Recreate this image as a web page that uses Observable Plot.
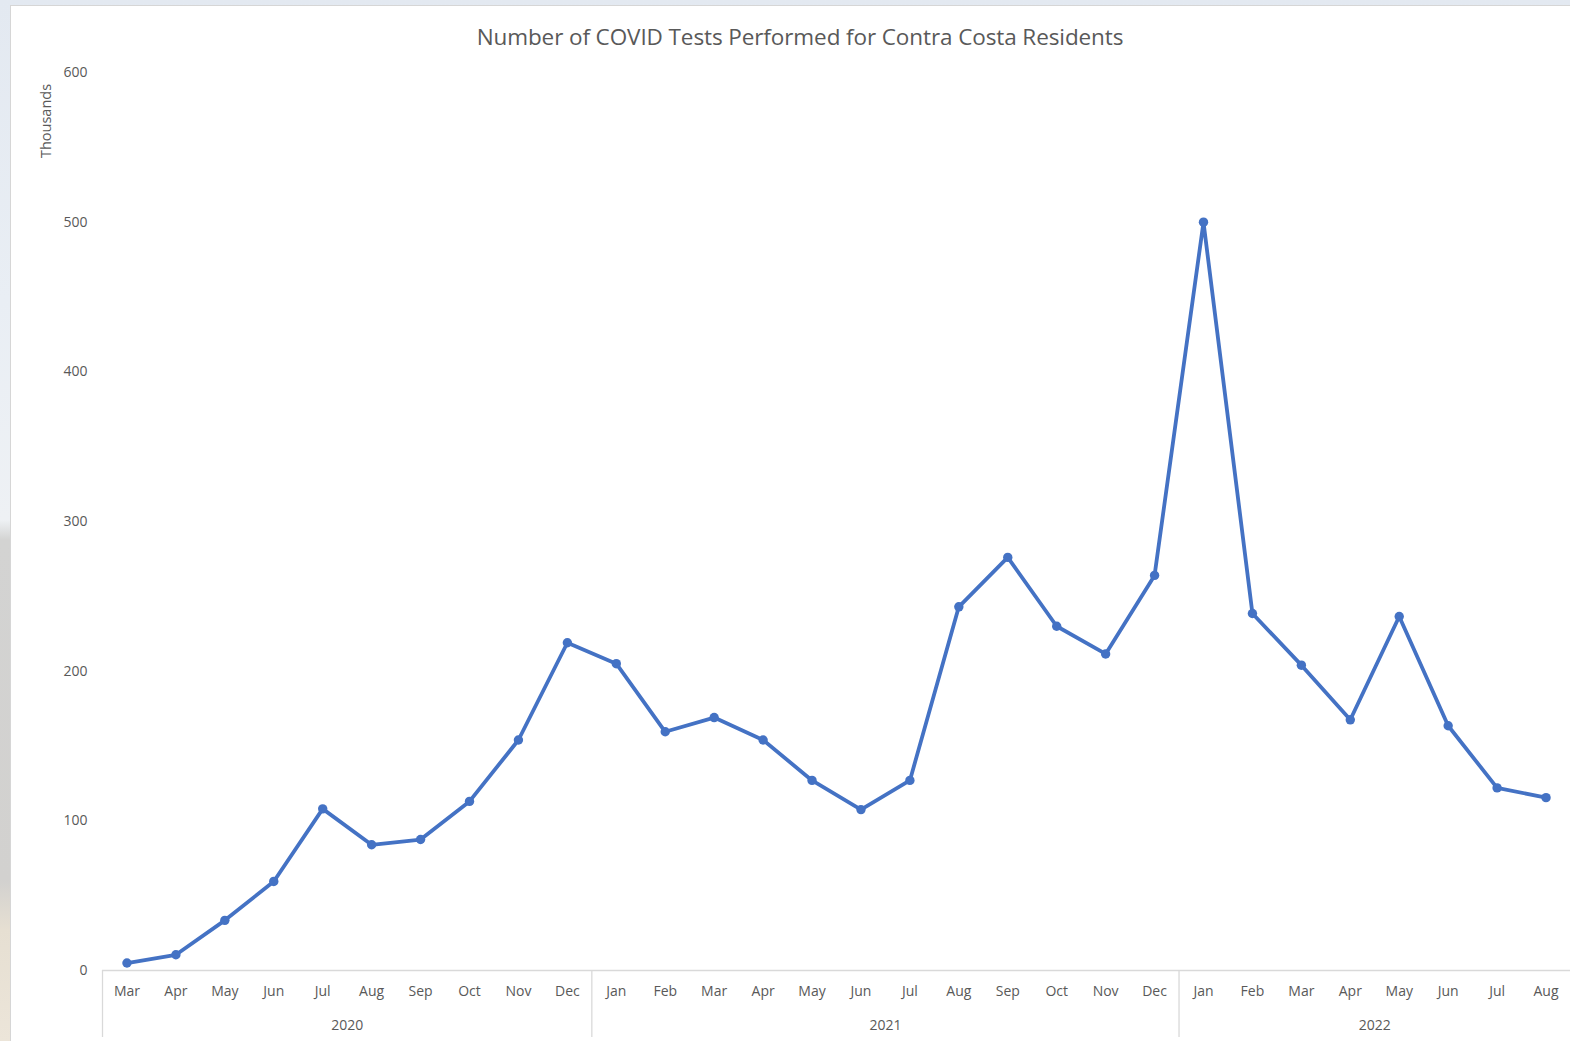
<!DOCTYPE html>
<html>
<head>
<meta charset="utf-8">
<script src="https://cdn.jsdelivr.net/npm/d3@7"></script>
<script src="https://cdn.jsdelivr.net/npm/@observablehq/plot@0.6"></script>
<style>
  html, body { margin: 0; padding: 0; }
  body {
    width: 1570px; height: 1041px; overflow: hidden; position: relative;
    background: linear-gradient(to bottom, #e3e9f1 0px, #e9eef4 300px, #eef1f4 520px, #d3d3d2 540px, #d2d1cf 880px, #e6dfd2 930px, #ece5d9 1041px);
    font-family: "Open Sans", "Noto Sans", sans-serif;
  }
  #panel {
    position: absolute; left: 10px; top: 5px; right: 0; bottom: 0;
    background: #ffffff; border-left: 1px solid #d6d6d6; border-top: 1px solid #d6d6d6;
  }
  #chart { position: absolute; left: 0; top: 0; }
  #title {
    position: absolute; left: 800px; top: 36px; transform: translate(-50%, -50%);
    font-size: 22.5px; color: #595959; white-space: nowrap; letter-spacing: -0.1px;
  }
  #ylabel {
    position: absolute; left: 45px; top: 121px; transform: translate(-50%, -50%) rotate(-90deg);
    font-size: 14.5px; color: #595959; white-space: nowrap;
  }
</style>
</head>
<body>
<div id="panel"></div>
<div id="chart"></div>
<div id="title">Number of COVID Tests Performed for Contra Costa Residents</div>
<div id="ylabel">Thousands</div>
<script>
// Month labels for each data point (Mar 2020 – Aug 2022)
const monthLabels = [
  "Mar","Apr","May","Jun","Jul","Aug","Sep","Oct","Nov","Dec",
  "Jan","Feb","Mar","Apr","May","Jun","Jul","Aug","Sep","Oct","Nov","Dec",
  "Jan","Feb","Mar","Apr","May","Jun","Jul","Aug"
];
// Year of each data point
const pointYears = [
  2020,2020,2020,2020,2020,2020,2020,2020,2020,2020,
  2021,2021,2021,2021,2021,2021,2021,2021,2021,2021,2021,2021,
  2022,2022,2022,2022,2022,2022,2022,2022
];
// Tests performed, thousands
const testsThousands = [
  5, 10.5, 33.5, 59.5, 108, 84, 87.5, 113, 154, 219,
  205, 159.5, 169, 154, 127, 107.5, 127, 243, 276, 230, 211.5, 264,
  500, 238.5, 204, 167.5, 236.5, 163.5, 122, 115.5
];
const yTicks = [0, 100, 200, 300, 400, 500, 600];

const data = monthLabels.map((m, i) => ({i, month: m, year: pointYears[i], value: testsThousands[i]}));
const groups = d3.groups(data, d => d.year).map(([year, rows]) => {
  const first = rows[0].i, last = rows[rows.length - 1].i;
  return {year: String(year), start: first - 0.5, mid: (first + last) / 2};
});

const blue = "#4472C4";
const chart = Plot.plot({
  width: 1570,
  height: 1041,
  marginTop: 72,
  marginBottom: 71,
  marginLeft: 102,
  marginRight: 0,
  x: {type: "linear", domain: [-0.5, monthLabels.length - 0.5]},
  y: {domain: [0, 600]},
  style: {fontFamily: "'Open Sans', 'Noto Sans', sans-serif", fontSize: "14px", color: "#595959", background: "transparent"},
  marks: [
    Plot.axisY({ticks: yTicks, tickSize: 0, tickPadding: 15, label: null}),
    Plot.axisX({ticks: d3.range(monthLabels.length), tickFormat: i => monthLabels[i], tickSize: 0, tickPadding: 16, label: null}),
    Plot.ruleY([0], {stroke: "#d9d9d9", strokeWidth: 1.3}),
    Plot.ruleX(groups, {x: "start", y1: 0, y2: 0, insetBottom: -67, stroke: "#d9d9d9", strokeWidth: 1.3}),
    Plot.text(groups, {x: "mid", y: 0, text: "year", dy: 55, fill: "#595959"}),
    Plot.line(data, {x: "i", y: "value", stroke: blue, strokeWidth: 3.8, strokeLinejoin: "round"}),
    Plot.dot(data, {x: "i", y: "value", r: 4.7, fill: blue, stroke: "none"})
  ]
});
document.getElementById("chart").appendChild(chart);
</script>
</body>
</html>
